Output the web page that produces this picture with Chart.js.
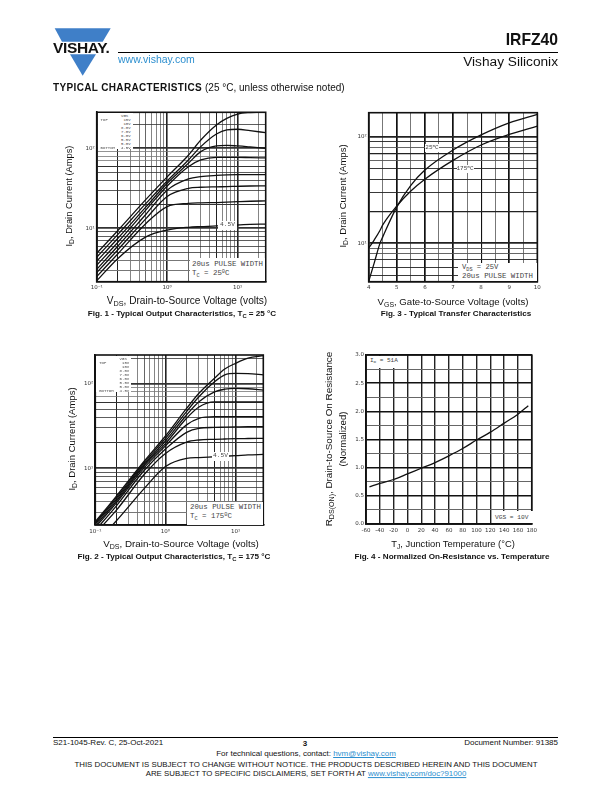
<!DOCTYPE html>
<html><head><meta charset="utf-8">
<script src="https://cdn.jsdelivr.net/npm/chart.js@4/dist/chart.umd.js"></script>
<style>
html,body{margin:0;padding:0;background:#fff}
#page{position:relative;width:612px;height:792px;overflow:hidden;font-family:"Liberation Sans",Arial,sans-serif;color:#111}
canvas{position:absolute;filter:blur(.25px)}
.t{position:absolute;white-space:nowrap;line-height:1}
.box{position:absolute;background:#fff}
sub{font-size:.72em;line-height:0;vertical-align:-.28em}
sup{font-size:.72em;line-height:0;vertical-align:.45em}
a{color:#2d8fcf}
.m{font-family:"Liberation Mono",monospace;color:#444}
</style></head><body><div id="page"></div>
<script>
// ---------- data ----------
const fig1Vds = [0.1,0.2,0.5,1,2,3,5,7,10,15,25];
const fig1Gate = ['15V','10V','8.0V','7.0V','6.0V','5.5V','5.0V','4.5V'];
const fig1A = [4.87,9.4,23,44,82,127,196,237,268,280,285];
const fig1B = [4.34,8.4,20.5,39,71.5,105,151,170,173,166,157];
const fig1C = [3.87,7.5,18.5,36.5,65,91,107,109,107,104,100];
const fig1D = [3.45,6.7,17,33.8,58.8,71.5,77,77,77,76.5,76];
const fig1E = [3.07,6,15,30,41.4,44.3,45.9,46.5,46.8,46.8,46.8];
const fig1F = [2.79,5.4,13.2,25,31.6,32.6,33,33.2,33.5,33.8,34];
const fig1G = [2.49,4.8,11.5,18.7,20.5,20.8,21,21.2,21.5,21.8,22];
const fig1H = [2.2,4.2,7.8,9.5,10.3,10.5,10.7,10.9,11,11.2,11.3];

const fig2Vds = [0.1,0.2,0.5,1,2,3,5,7,10,15,25];
const fig2A = [2.34,4.7,12.2,24.1,51,77,116,149,174,200,214];
const fig2B = [2.27,4.5,11.7,22.6,46.8,70,105,127,132,131,127];
const fig2C = [2.2,4.3,11.2,21,42.6,61,80,86,88,87,84];
const fig2D = [2.1,4.1,10.8,19.6,39,53,61,61,61,61,61];
const fig2E = [2,3.9,10.2,18.4,32.6,39,40.7,40.7,40.7,40.7,40.7];
const fig2F = [1.85,3.6,9.5,16.9,26.6,29.7,30.4,30.6,30.8,31,31];
const fig2G = [1.7,3.2,8.5,15,20.4,21.6,22,22.2,22.4,22.5,22.6];
const fig2H = [1.3,2.4,5.8,10.5,13.1,13.4,13.7,13.9,14.1,14.4,14.6];

const fig3Vgs = [4,4.2,4.4,4.5,5,5.5,6,7,8,9,10];
const fig3Cold = [4.4,6.6,10,11.5,22,35,48.7,75,104,135,162];
const fig3Hot = [9,10.8,13.2,14.9,22.4,31,40,60,83.6,105,126];

const fig4Temp = [-55,-40,-20,0,20,40,60,80,100,120,140,160,175];
const fig4Rds = [0.66,0.72,0.79,0.89,0.99,1.09,1.21,1.34,1.49,1.63,1.79,1.95,2.10];

const logXTicks = [0.1,0.2,0.3,0.4,0.5,0.6,0.7,0.8,0.9,1,2,3,4,5,6,7,8,9,10,20];
const logYTicks = [3,4,5,6,7,8,9,10,20,30,40,50,60,70,80,90,100,200];
const fig3XTicks = [4,4.5,5,5.5,6,6.5,7,7.5,8,8.5,9,9.5,10];
const fig3XLabels = ['4','5','6','7','8','9','10'];
const fig3YTicks = [5,6,7,8,9,10,20,30,40,50,60,70,80,90,100];
const fig4XTicks = [-60,-40,-20,0,20,40,60,80,100,120,140,160,180];
const fig4YTicks = [0,0.25,0.5,0.75,1,1.25,1.5,1.75,2,2.25,2.5,2.75,3];
const fig4YLabels = ['0.0','0.5','1.0','1.5','2.0','2.5','3.0'];
const decadeLabels = {0.1:'10⁻¹',1:'10⁰',10:'10¹',100:'10²'};

// ---------- helpers ----------
const page = document.getElementById('page');
function txt(x,y,html,o={}){
  const e=document.createElement('div');e.className='t '+(o.cls||'');e.innerHTML=html;
  const tx=o.align==='c'?'-50%':o.align==='r'?'-100%':'0';
  e.style.cssText+=`left:${x}px;top:${y}px;font-size:${o.size||9}px;font-weight:${o.bold?700:400};`+
   `transform:translate(${tx},-50%)${o.rot?' rotate(-90deg)':''};`+(o.color?`color:${o.color};`:'')+(o.sp?`letter-spacing:${o.sp}px;`:'');
  page.appendChild(e);return e;
}
function box(x,y,w,h){const e=document.createElement('div');e.className='box';e.style.cssText=`left:${x}px;top:${y}px;width:${w}px;height:${h}px`;page.appendChild(e);}
function rule(x1,x2,y){const e=document.createElement('div');e.style.cssText=`position:absolute;left:${x1}px;width:${x2-x1}px;top:${y}px;height:1px;background:#000`;page.appendChild(e);}

const M={l:32,r:6,t:6,b:16};
function plot(rect,cfg){
  const [L,T,R,B]=rect, x0=Math.floor(L)-M.l, y0=Math.floor(T)-M.t;
  const W=Math.ceil(R)+M.r-x0, H=Math.ceil(B)+M.b-y0;
  const c=document.createElement('canvas');c.style.cssText=`left:${x0}px;top:${y0}px;width:${W}px;height:${H}px`;
  c.width=W;c.height=H;page.appendChild(c);
  const axis=(a,isX)=>({type:a.type,min:a.min,max:a.max,offset:false,
    afterFit:isX?(s=>{s.height=y0+H-B;}):(s=>{s.width=L-x0;}),
    afterBuildTicks:s=>{s.ticks=a.ticks.map(v=>({value:v}));},
    grid:{drawTicks:false,color:k=>a.color(k.tick.value),lineWidth:k=>a.width(k.tick.value)},
    border:{display:true,color:'#111',width:1.6},
    ticks:{autoSkip:false,maxRotation:0,padding:isX?3:2,color:'#333',font:{family:'DejaVu Sans',size:5.5},callback:a.label}});
  new Chart(c,{type:'line',data:{datasets:cfg.series.map(s=>({data:s.x.map((v,i)=>({x:v,y:s.y[i]})),borderColor:'#111',borderWidth:1.3,pointRadius:0,cubicInterpolationMode:'monotone',fill:false}))},
   options:{responsive:false,animation:false,devicePixelRatio:1,
    layout:{autoPadding:false,padding:{top:T-y0,right:x0+W-R,left:0,bottom:0}},
    plugins:{legend:{display:false},tooltip:{enabled:false}},
    scales:{x:axis(cfg.x,true),y:axis(cfg.y,false)}},
   plugins:[{id:'rim',afterDatasetsDraw(ch){const a=ch.chartArea,g=ch.ctx;g.save();g.strokeStyle='#111';g.lineWidth=1.6;g.strokeRect(a.left,a.top,a.right-a.left,a.bottom-a.top);g.restore();}}]});
}
const decadeLabel=v=>decadeLabels[v]||'';
const dec=v=>[0.1,1,10,100].includes(v);
const logX=(max)=>({type:'logarithmic',min:0.1,max,ticks:logXTicks,label:decadeLabel,
   color:v=>dec(v)||v===5||v===0.2?'#222':'#666',width:v=>dec(v)?1.6:(v===2||v===5||v===0.2||v===0.5?1:0.8)});
const logY=(min,max,ticks)=>({type:'logarithmic',min,max,ticks,label:decadeLabel,
   color:v=>[3,4,70,80,90].includes(v)?'#777':'#333',width:v=>dec(v)?1.8:([3,4,20,60].includes(v)?1.1:0.8)});

// ---------- charts ----------
plot([96.7,112.3,265.7,281.7],{x:logX(25),y:logY(2.15,282,logYTicks),
 series:[fig1A,fig1B,fig1C,fig1D,fig1E,fig1F,fig1G,fig1H].map(y=>({x:fig1Vds,y}))});
plot([95.3,355,263.3,525],{x:logX(24.8),y:logY(2.14,218,logYTicks),
 series:[fig2A,fig2B,fig2C,fig2D,fig2E,fig2F,fig2G,fig2H].map(y=>({x:fig2Vds,y}))});
plot([368.7,112.7,537.3,281.7],{
 x:{type:'linear',min:4,max:10,ticks:fig3XTicks,label:v=>fig3XLabels.includes(String(v))?String(v):'',
    color:v=>Number.isInteger(v)?'#111':'#777',width:v=>[5,6,7,9].includes(v)?1.7:(Number.isInteger(v)?1.1:1)},
 y:{type:'logarithmic',min:4.37,max:168,ticks:fig3YTicks,label:decadeLabel,
    color:v=>[8,9,60,80].includes(v)?'#555':'#222',width:v=>dec(v)?1.8:(v===20||v===70?1.2:0.9)},
 series:[{x:fig3Vgs,y:fig3Cold},{x:fig3Vgs,y:fig3Hot}]});
plot([366,355,534,524],{
 x:{type:'linear',min:-60,max:180,ticks:fig4XTicks,label:v=>String(v),color:v=>'#222',width:v=>1.4},
 y:{type:'linear',min:0,max:3,ticks:fig4YTicks,label:v=>fig4YLabels.includes(v.toFixed(1))&&v%0.5===0?v.toFixed(1):'',
    color:v=>v%0.5===0?'#111':'#666',width:v=>v%0.5===0?1.6:1.1},
 series:[{x:fig4Temp,y:fig4Rds}]});

// ---------- in-plot annotations ----------
function gateKey(x,y){
  box(x,y,35,36);
  const y0=y+3, st=3.96;
  txt(x+27,y0,'VGS',{cls:'m',size:4,align:'c'});
  fig1Gate.forEach((g,i)=>txt(x+33,y0+st*(i+1),g,{cls:'m',size:4,align:'r'}));
  txt(x+3,y0+st,'TOP',{cls:'m',size:4});
  txt(x+3,y0+st*8,'BOTTOM',{cls:'m',size:4});
}
gateKey(97.6,113.2);
gateKey(96.2,356);
box(190,258,75,23);
txt(192,265,'20us PULSE WIDTH',{cls:'m',size:7.4});
txt(192,273.5,'T<sub>C</sub> = 25<sup>0</sup>C',{cls:'m',size:7.4});
box(218,221,19,8.5);
txt(227.5,225,'4.5V',{cls:'m',size:6.2,align:'c'});
box(187,502,75.5,22.5);
txt(190,507.5,'20us PULSE WIDTH',{cls:'m',size:7.4});
txt(190,516.5,'T<sub>C</sub> = 175<sup>0</sup>C',{cls:'m',size:7.4});
box(212,452,17,8.5);
txt(220.5,456,'4.5V',{cls:'m',size:6.2,align:'c'});
box(425,144,14,8);txt(432,148,'25<sup>0</sup>C',{cls:'m',size:6,align:'c'});
box(457,165,17,8);txt(465,169,'175<sup>0</sup>C',{cls:'m',size:6,align:'c'});
box(458,263,78.5,18);
txt(462,268,'V<sub>DS</sub> = 25V',{cls:'m',size:7.2});
txt(462,277,'20us PULSE WIDTH',{cls:'m',size:7.4});
box(367,356,35,12);txt(370,361,'I<sub>D</sub> = 51A',{cls:'m',size:6});
box(493,511,40,12);txt(495,517.5,'VGS = 10V',{cls:'m',size:6.2});

// ---------- axis titles and captions ----------
txt(187,301,'V<sub>DS</sub>, Drain-to-Source Voltage (volts)',{size:10.1,align:'c'});
txt(70,196,'I<sub>D</sub>, Drain Current (Amps)',{size:9.3,align:'c',rot:1});
txt(182,314,'Fig. 1 - Typical Output Characteristics, T<sub>C</sub> = 25 °C',{size:8.1,bold:1,align:'c'});
txt(453,302,'V<sub>GS</sub>, Gate-to-Source Voltage (volts)',{size:9.6,align:'c'});
txt(342.7,196,'I<sub>D</sub>, Drain Current (Amps)',{size:9.5,align:'c',rot:1});
txt(456,314,'Fig. 3 - Typical Transfer Characteristics',{size:8.1,bold:1,align:'c'});
txt(181,544,'V<sub>DS</sub>, Drain-to-Source Voltage (volts)',{size:9.8,align:'c'});
txt(71.7,439,'I<sub>D</sub>, Drain Current (Amps)',{size:9.5,align:'c',rot:1});
txt(174,557,'Fig. 2 - Typical Output Characteristics, T<sub>C</sub> = 175 °C',{size:8.1,bold:1,align:'c'});
txt(453,544,'T<sub>J</sub>, Junction Temperature (°C)',{size:9.4,align:'c'});
txt(329,439,'R<sub>DS(ON)</sub>, Drain-to-Source On Resistance',{size:9.85,align:'c',rot:1});
txt(342.7,439,'(Normalized)',{size:9.6,align:'c',rot:1});
txt(452,557,'Fig. 4 - Normalized On-Resistance vs. Temperature',{size:8.1,bold:1,align:'c'});

// ---------- page header and footer ----------
const logo=document.createElement('div');
logo.innerHTML='<svg width="120" height="80" style="position:absolute;left:0;top:0" viewBox="0 0 120 80"><polygon points="54.7,28.3 110.7,28.3 102.7,41.7 62,41.7" fill="#3f7fc8"/><polygon points="70,54.3 96,54.3 82.7,75.7" fill="#3f7fc8"/></svg>';
page.appendChild(logo);
txt(53,47.8,'VISHAY.',{size:15.5,bold:1,sp:-0.35,color:'#111'});
rule(117.7,558,52);
txt(558,40,'IRFZ40',{size:15.7,bold:1,align:'r'});
txt(558,62,'Vishay Siliconix',{size:13.7,align:'r'});
txt(118,59,'www.vishay.com',{size:10.5,color:'#2d8fcf'});
txt(53,87.5,'TYPICAL CHARACTERISTICS',{size:10,bold:1,sp:0.35});
txt(205,87.5,'(25 °C, unless otherwise noted)',{size:10});
rule(53,558,737);
txt(53,743,'S21-1045-Rev. C, 25-Oct-2021',{size:8});
txt(305,744,'3',{size:8,bold:1,align:'c'});
txt(558,743,'Document Number: 91385',{size:8,align:'r'});
txt(306,754,'For technical questions, contact: <a href="#">hvm@vishay.com</a>',{size:8,align:'c'});
txt(306,765,'THIS DOCUMENT IS SUBJECT TO CHANGE WITHOUT NOTICE. THE PRODUCTS DESCRIBED HEREIN AND THIS DOCUMENT',{size:7.85,align:'c'});
txt(306,773.5,'ARE SUBJECT TO SPECIFIC DISCLAIMERS, SET FORTH AT <a href="#">www.vishay.com/doc?91000</a>',{size:7.85,align:'c'});
</script></body></html>
